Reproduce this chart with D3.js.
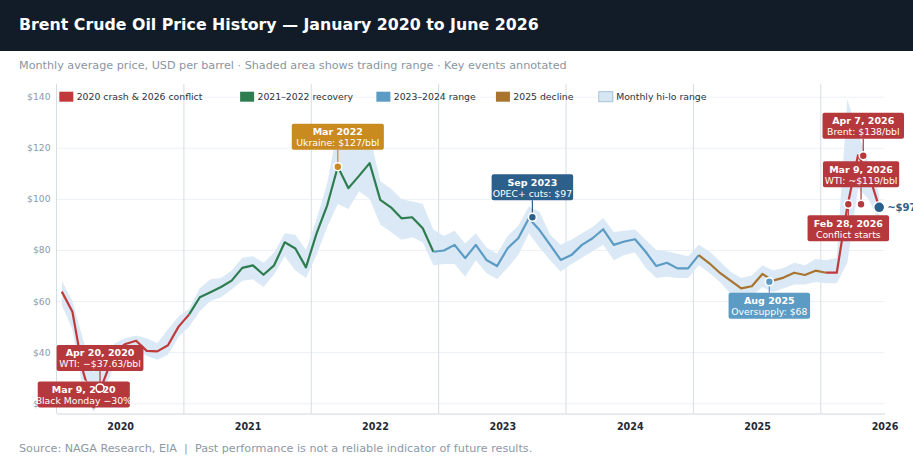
<!DOCTYPE html>
<html lang="en">
<head>
  <meta charset="UTF-8">
  <title>Brent Crude Oil Price History</title>
  <script src="https://d3js.org/d3.v7.min.js"></script>
  <style>
    body {
      margin: 0;
      background: #fff;
      font-family: "DejaVu Sans", sans-serif;
    }
    svg {
      display: block;
    }
  </style>
</head>
<body>
  <script>
    // ---- data (monthly, Jan 2020 .. Jun 2026) ----
    const years = [2020, 2021, 2022, 2023, 2024, 2025, 2026];
    const months = years.flatMap(y => d3.range(1, 13).map(m => `${y}-${String(m).padStart(2, "0")}`)).slice(0, 78);

    const price = [
      63.7, 55.8, 32.5, 18.4, 29.4, 40.3, 43.2, 44.5, 40.5, 40.3, 42.7, 50.0,   // 2020
      54.8, 61.5, 63.5, 65.5, 68.0, 73.0, 74.0, 70.3, 74.0, 83.0, 80.6, 73.2,   // 2021
      86.5, 97.5, 112.6, 104.2, 109.0, 114.0, 99.6, 96.7, 92.4, 92.8, 88.5, 79.3, // 2022
      79.8, 82.0, 76.8, 82.0, 76.1, 73.7, 80.7, 84.6, 92.4, 87.8, 82.0, 76.1,   // 2023
      78.0, 82.0, 84.6, 88.1, 82.0, 83.3, 84.2, 79.3, 73.7, 75.0, 72.8, 72.8,   // 2024
      78.0, 74.8, 71.0, 68.0, 65.0, 65.8, 70.6, 68.0, 69.2, 71.1, 70.2, 71.9,   // 2025
      71.1, 71.1, 97.0, 117.0, 110.0, 96.7                                      // 2026
    ];
    const high = [
      68, 60, 45, 32, 38, 43.5, 45.5, 46.5, 45.5, 43.5, 49, 54,
      57, 65, 68.5, 69, 72, 77, 77.5, 75, 79, 86.5, 86, 80,
      92, 106, 128, 122, 124, 125, 107, 104, 100, 99, 98, 88,
      85.5, 87.5, 82.5, 86.5, 81, 78.5, 85.5, 89.5, 97, 95, 86, 82,
      84, 86.5, 89, 92.5, 87, 87.5, 88, 84, 80, 79.5, 78.5, 77.5,
      82, 79.5, 75.5, 71.5, 69, 70, 74, 72, 73, 75, 74, 76.5,
      76, 77, 139, 126, 114, 102
    ];
    const low = [
      58.5, 49, 25, 16.5, 25, 35.5, 41, 41.5, 38.5, 37, 39, 46,
      50, 56, 60, 61.5, 64.5, 68, 68.5, 65.5, 70.5, 77.5, 72, 69,
      78, 89, 98, 96, 103, 100, 90, 87, 84, 85, 83, 74,
      74.5, 74.5, 69.5, 76, 71, 68.5, 73, 78, 86.5, 81, 76, 71.5,
      74.5, 77, 79.5, 82, 76, 78, 79, 73, 69, 69.5, 69, 69,
      74, 71, 67.5, 63, 60, 62, 65.5, 63.5, 65, 66.5, 66.5, 67.5,
      67, 67, 75, 104, 100, 91
    ];

    // line segments: [first month index, last month index, legend key]
    const segments = [
      [0, 12, "crash"], [12, 35, "recovery"], [35, 60, "range"], [60, 72, "decline"], [72, 77, "crash"]
    ];
    const legendKeys = ["crash", "recovery", "range", "decline", "band"];
    const legendLabels = ["2020 crash & 2026 conflict", "2021–2022 recovery", "2023–2024 range", "2025 decline", "Monthly hi-lo range"];

    const yTicks = [20, 40, 60, 80, 100, 120, 140];

    // events: fractional month index, price, title, sub text, colour key, side
    const events = [
      [2.07, 27.0, "Mar 9, 2020", "Black Monday −30%", "red", "below"],
      [3.6, 26.0, "Apr 20, 2020", "WTI: −$37.63/bbl", "red", "above"],
      [26, 112.6, "Mar 2022", "Ukraine: $127/bbl", "gold", "above"],
      [44.33, 92.8, "Sep 2023", "OPEC+ cuts: $97", "navy", "above"],
      [66.65, 67.6, "Aug 2025", "Oversupply: $68", "steel", "below"],
      [74.09, 97.9, "Feb 28, 2026", "Conflict starts", "red", "below"],
      [75.29, 97.9, "Mar 9, 2026", "WTI: ~$119/bbl", "red", "above"],
      [75.5, 116.9, "Apr 7, 2026", "Brent: $138/bbl", "red", "above"]
    ];

    // ---- styles ----
    const lineColor = { crash: "#c0393b", recovery: "#2e7d4f", range: "#5b9bc4", decline: "#a8742f", band: "#d6e7f4" };
    const noteColor = { red: "#b5393c", gold: "#c98a1f", navy: "#2c5f8a", steel: "#5b9bc4" };

    const width = 913, height = 463;
    const svg = d3.select("body").append("svg")
      .attr("width", width)
      .attr("height", height);

    const x = d3.scaleLinear().domain([-0.5, 77.5]).range([56.5, 884.5]);
    const y = d3.scaleLinear().domain([16, 145]).range([413.5, 83.9]);
    const plotTop = y(145), plotBottom = y(16);

    // header
    svg.append("rect").attr("width", width).attr("height", 51).attr("fill", "#111c28");
    svg.append("text").attr("x", 19).attr("y", 29.5)
      .attr("fill", "#fff").attr("font-size", 15.8).attr("font-weight", "bold")
      .text("Brent Crude Oil Price History — January 2020 to June 2026");
    svg.append("text").attr("x", 19).attr("y", 69)
      .attr("fill", "#8a96a3").attr("font-size", 11.2)
      .text("Monthly average price, USD per barrel · Shaded area shows trading range · Key events annotated");

    // y grid + labels
    const yAxis = svg.append("g")
      .attr("transform", `translate(${x.range()[0]},0)`)
      .call(d3.axisLeft(y).tickValues(yTicks).tickFormat(d => "$" + d)
        .tickSize(-(x.range()[1] - x.range()[0])).tickPadding(6));
    yAxis.select(".domain").remove();
    yAxis.selectAll("line").attr("stroke", "#edf1f5");
    yAxis.selectAll("text").attr("fill", "#8c99a6").attr("font-size", 9.2)
      .attr("font-family", "DejaVu Sans");

    // year separators
    svg.append("g").selectAll("line")
      .data(years)
      .join("line")
      .attr("x1", (d, i) => x(i * 12 - 0.5))
      .attr("x2", (d, i) => x(i * 12 - 0.5))
      .attr("y1", plotTop).attr("y2", plotBottom)
      .attr("stroke", "#d5dde5");

    // x axis
    const xAxis = svg.append("g")
      .attr("transform", `translate(0,${plotBottom})`)
      .call(d3.axisBottom(x).tickValues(years.map((d, i) => i * 12 + 5.5))
        .tickFormat((d, i) => years[i]).tickSize(0).tickPadding(10));
    xAxis.select(".domain").attr("stroke", "#cfd8e0");
    xAxis.selectAll("text").attr("fill", "#1f2a36").attr("font-size", 9.6)
      .attr("font-weight", "bold").attr("font-family", "DejaVu Sans");

    // hi-lo band
    const idx = d3.range(months.length);
    svg.append("path")
      .datum(idx)
      .attr("fill", lineColor.band)
      .attr("opacity", 0.9)
      .attr("d", d3.area().x(i => x(i)).y0(i => y(low[i])).y1(i => y(high[i])));

    // price line by period
    const line = d3.line().x(i => x(i)).y(i => y(price[i]));
    svg.append("g").selectAll("path")
      .data(segments)
      .join("path")
      .attr("fill", "none")
      .attr("stroke", d => lineColor[d[2]])
      .attr("stroke-width", 2.2)
      .attr("stroke-linejoin", "round")
      .attr("d", d => line(d3.range(d[0], d[1] + 1)));

    // legend
    const legend = svg.append("g").attr("transform", "translate(59.3,91.7)");
    let lx = 0;
    legendLabels.forEach((label, i) => {
      const g = legend.append("g").attr("transform", `translate(${lx},0)`);
      g.append("rect").attr("width", 14).attr("height", 10)
        .attr("fill", i === 4 ? lineColor.band : lineColor[legendKeys[i]])
        .attr("stroke", i === 4 ? "#a9c1d6" : "none");
      g.append("text").attr("x", 17.4).attr("y", 8.6)
        .attr("font-size", 9.3).attr("fill", "#2b3440").text(label);
      lx += label.length * 5.57 + 36;
    });

    // events
    const notes = svg.append("g");
    events.forEach(([mi, val, title, sub, ck, side]) => {
      const cx = x(mi), cy = y(val), col = noteColor[ck];
      const w = Math.max(title.length * 5.9, sub.length * 5.3) + 2, h = 26;
      let by = side === "above" ? cy - 17 - h : cy + 11;
      by = Math.min(by, plotBottom - 6 - h);
      const g = notes.append("g");
      g.append("line")
        .attr("x1", cx).attr("x2", cx)
        .attr("y1", cy).attr("y2", side === "above" ? by + h : by)
        .attr("stroke", col).attr("stroke-width", 1.2);
      g.append("circle").attr("cx", cx).attr("cy", cy).attr("r", 4)
        .attr("fill", col).attr("stroke", "#fff").attr("stroke-width", 1.6);
      g.append("rect").attr("x", cx - w / 2).attr("y", by)
        .attr("width", w).attr("height", h).attr("rx", 2).attr("fill", col);
      g.append("text").attr("x", cx).attr("y", by + 11.5)
        .attr("text-anchor", "middle").attr("fill", "#fff")
        .attr("font-size", 9.5).attr("font-weight", "bold").text(title);
      g.append("text").attr("x", cx).attr("y", by + 22.3)
        .attr("text-anchor", "middle").attr("fill", "#fff")
        .attr("font-size", 9.3).text(sub);
    });

    // latest price marker
    const last = months.length - 1;
    svg.append("circle").attr("cx", x(last)).attr("cy", y(price[last])).attr("r", 5.5)
      .attr("fill", noteColor.navy).attr("stroke", "#fff").attr("stroke-width", 1.5);
    svg.append("text").attr("x", x(last) + 8).attr("y", y(price[last]) + 3.5)
      .attr("fill", noteColor.navy).attr("font-size", 10).attr("font-weight", "bold")
      .text("~$" + Math.round(price[last]));

    // footer
    svg.append("text").attr("x", 19).attr("y", 452)
      .attr("fill", "#8d99a6").attr("font-size", 11.2)
      .style("white-space", "pre")
      .text("Source: NAGA Research, EIA  |  Past performance is not a reliable indicator of future results.");
  </script>
</body>
</html>
